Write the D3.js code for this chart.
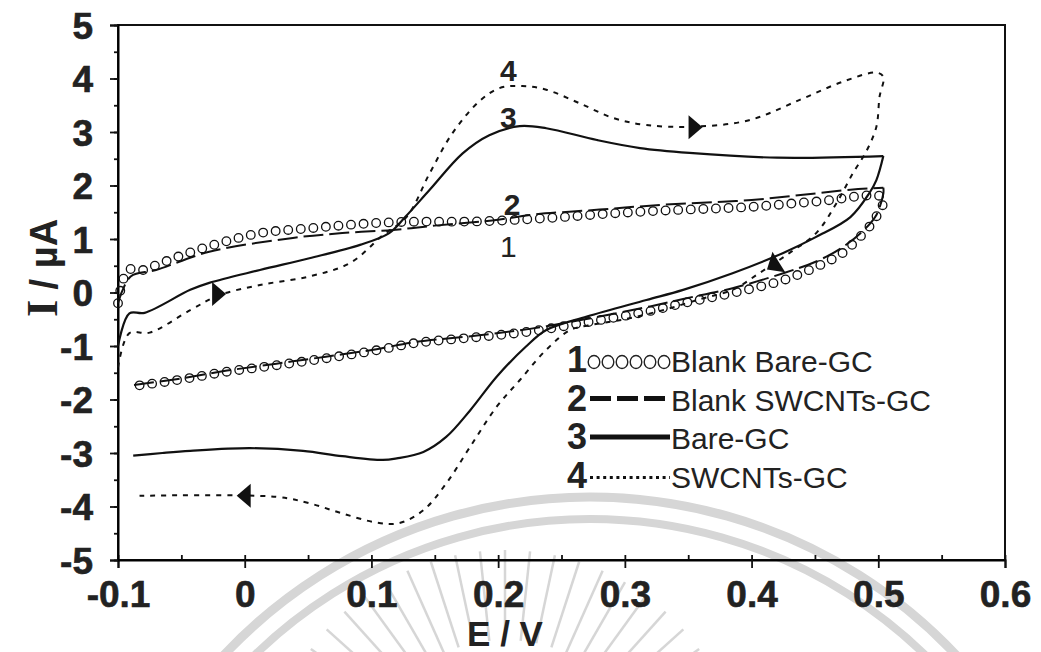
<!DOCTYPE html>
<html><head><meta charset="utf-8">
<script src="https://cdn.jsdelivr.net/npm/d3@7"></script>
<style>body{margin:0;background:#fff}svg{display:block}</style>
</head><body>
<svg id="c" width="1041" height="652"></svg>
<script>
// ---- data (E in V, I in µA) ----
const xTicks = [-0.1, 0, 0.1, 0.2, 0.3, 0.4, 0.5, 0.6];
const xTickLabels = ["-0.1", "0", "0.1", "0.2", "0.3", "0.4", "0.5", "0.6"];
const yTicks = [-5, -4, -3, -2, -1, 0, 1, 2, 3, 4, 5];
const yTickLabels = ["-5", "-4", "-3", "-2", "-1", "0", "1", "2", "3", "4", "5"];

// 1: Blank Bare-GC (circles)
const blankBare = [
  [-0.1,-0.2],[-0.092,0.42],[-0.08,0.42],[-0.07,0.51],[-0.049,0.70],[-0.02,0.92],[0.012,1.11],
  [0.051,1.20],[0.091,1.28],[0.125,1.32],[0.185,1.33],[0.238,1.39],[0.291,1.48],[0.338,1.54],
  [0.399,1.60],[0.451,1.70],[0.504,1.77],
  [0.4985,1.42],[0.493,1.23],[0.483,0.98],[0.472,0.74],[0.451,0.48],[0.425,0.23],[0.385,-0.01],
  [0.346,-0.20],[0.317,-0.36],[0.264,-0.58],[0.225,-0.73],[0.185,-0.83],[0.133,-0.95],[0.104,-1.08],
  [0.064,-1.23],[0.025,-1.36],[-0.014,-1.48],[-0.054,-1.64],[-0.091,-1.76]
];
// 2: Blank SWCNTs-GC (long dashes)
const blankSwcnt = [
  [-0.1,-0.2],[-0.09,0.30],[-0.07,0.42],[-0.028,0.76],[0.038,1.02],[0.077,1.11],[0.117,1.17],
  [0.15,1.25],[0.2,1.36],[0.225,1.45],[0.28,1.55],[0.33,1.64],[0.4,1.73],[0.478,1.92],[0.504,1.96],
  [0.504,1.85],[0.4985,1.45],[0.49,1.2],[0.472,0.85],[0.451,0.58],[0.425,0.36],[0.385,0.08],
  [0.346,-0.12],[0.32,-0.26],[0.264,-0.52],[0.225,-0.68],[0.185,-0.80],[0.133,-0.93],[0.104,-1.06],
  [0.064,-1.20],[0.025,-1.33],[-0.014,-1.46],[-0.054,-1.62],[-0.091,-1.74]
];
// 3: Bare-GC (solid)
const bareGC = [
  [-0.1,-1.0],[-0.091,-0.39],[-0.079,-0.38],[-0.043,0.05],[-0.028,0.18],[0.012,0.42],[0.051,0.64],
  [0.091,0.89],[0.114,1.11],[0.127,1.42],[0.146,1.92],[0.172,2.60],[0.193,2.94],[0.217,3.11],
  [0.238,3.07],[0.278,2.85],[0.312,2.70],[0.351,2.61],[0.42,2.52],[0.504,2.55],
  [0.4985,2.10],[0.493,1.86],[0.478,1.41],[0.451,1.04],[0.425,0.74],[0.385,0.36],[0.346,0.05],
  [0.317,-0.14],[0.270,-0.45],[0.238,-0.70],[0.222,-1.01],[0.199,-1.57],[0.178,-2.20],[0.159,-2.70],
  [0.141,-2.98],[0.120,-3.10],[0.109,-3.13],[0.077,-3.06],[0.046,-2.96],[0.004,-2.91],[-0.043,-2.96],
  [-0.065,-3.0],[-0.088,-3.05]
];
// 4: SWCNTs-GC (short dashes)
const swcntGC = [
  [-0.1,-1.4],[-0.091,-0.76],[-0.075,-0.75],[-0.043,-0.33],[-0.020,-0.05],[0.012,0.14],[0.051,0.30],
  [0.083,0.55],[0.109,1.07],[0.128,1.42],[0.146,2.23],[0.164,2.98],[0.185,3.57],[0.201,3.82],
  [0.219,3.86],[0.238,3.79],[0.264,3.54],[0.291,3.26],[0.317,3.13],[0.354,3.10],[0.398,3.22],
  [0.438,3.60],[0.472,3.94],[0.4985,4.11],[0.504,4.03],
  [0.501,3.66],[0.4985,3.10],[0.491,2.66],[0.480,2.23],[0.467,1.67],[0.451,1.11],[0.430,0.74],
  [0.406,0.36],[0.385,0.05],[0.36,-0.12],[0.33,-0.33],[0.30,-0.50],[0.27,-0.62],[0.257,-0.70],
  [0.238,-1.07],[0.217,-1.64],[0.199,-2.13],[0.178,-2.88],[0.159,-3.57],[0.141,-4.07],[0.122,-4.31],
  [0.104,-4.30],[0.077,-4.13],[0.051,-3.94],[0.025,-3.82],[-0.083,-3.80]
];
// scan-direction arrows: [E, I, angle in degrees (screen)]
const arrows = [[-0.021,-0.03,0],[0.355,3.09,0],[0.4175,0.51,148],[0.0,-3.80,180]];
// curve number labels: [text, E, I, bold]
const curveLabels = [["4",0.208,3.95,true],["3",0.208,3.07,true],["2",0.211,1.45,true],["1",0.208,0.67,false]];
const legendNums = ["1","2","3","4"];
const legendNames = ["Blank Bare-GC","Blank SWCNTs-GC","Bare-GC","SWCNTs-GC"];

// ---- drawing ----
const svg = d3.select("#c");
const SANS = "'Liberation Sans', Arial, Helvetica, sans-serif";
const x = d3.scaleLinear().domain([-0.1, 0.6]).range([118, 1005]);
const y = d3.scaleLinear().domain([-5, 5]).range([560, 25]);

// split a CV trace at the switching potential (first max-E point) into forward and reverse scans
function splitScan(data) {
  const k = d3.maxIndex(data, d => d[0]);
  return [data.slice(0, k + 1), data.slice(k)];
}

// watermark (faint logo arcs and rays)
const wm = svg.append("g").attr("fill","none").attr("stroke","#d6d6d6");
[[503,9],[481,8]].forEach(([r,w]) => {
  wm.append("path").attr("stroke-width", w)
    .attr("d", d3.arc()({innerRadius:r, outerRadius:r, startAngle:-Math.PI*0.36, endAngle:Math.PI*0.36}))
    .attr("transform","translate(590,1000)");
});
for (let a = -54; a <= 54; a += 6) {
  const t = a*Math.PI/180, cx = 505, cy = 790;
  wm.append("line").attr("stroke-width",2.5)
    .attr("x1", cx + 150*Math.sin(t)).attr("y1", cy - 150*Math.cos(t))
    .attr("x2", cx + 240*Math.sin(t)).attr("y2", cy - 240*Math.cos(t));
}

// frame
svg.append("rect").attr("x",118).attr("y",25).attr("width",887).attr("height",535)
  .attr("fill","none").attr("stroke","#111").attr("stroke-width",2);

// axes
const xMinor = d3.range(-0.1, 0.6001, 0.05);
const yMinor = d3.range(-5, 5.001, 0.5);
const gx = svg.append("g").attr("transform","translate(0,560)");
gx.call(d3.axisBottom(x).tickValues(xMinor).tickSize(-5).tickFormat(""))
  .call(g => g.select(".domain").remove());
gx.append("g").call(d3.axisBottom(x).tickValues(xTicks).tickSize(8).tickFormat((d,i)=>xTickLabels[i]))
  .call(g => g.select(".domain").attr("stroke-width",2))
  .call(g => g.selectAll("text").attr("font-family",SANS).attr("font-weight","bold")
     .attr("font-size",37).attr("fill","#222").attr("stroke","#222").attr("stroke-width",0.6)
     .attr("dy",0).attr("y",47));
const gy = svg.append("g").attr("transform","translate(118,0)");
gy.call(d3.axisLeft(y).tickValues(yMinor).tickSize(4).tickFormat(""))
  .call(g => g.select(".domain").remove());
gy.append("g").call(d3.axisLeft(y).tickValues(yTicks).tickSize(8).tickFormat((d,i)=>yTickLabels[i]))
  .call(g => g.select(".domain").attr("stroke-width",2))
  .call(g => g.selectAll("text").attr("font-family",SANS).attr("font-weight","bold")
     .attr("font-size",37).attr("fill","#222").attr("stroke","#222").attr("stroke-width",0.6)
     .attr("x",-25).attr("dy","0.36em"));
svg.selectAll(".tick line").attr("stroke","#111").attr("stroke-width",1.8);

// axis titles
svg.append("text").attr("transform","translate(57,268) rotate(-90)").attr("text-anchor","middle")
  .attr("font-family",SANS).attr("font-weight","bold").attr("font-size",38).attr("fill","#222")
  .call(t => { t.append("tspan").attr("font-family","'Liberation Serif', 'Times New Roman', serif").attr("font-size",44).text("I");
               t.append("tspan").text(" / µA"); });
svg.append("text").attr("x",505).attr("y",646).attr("text-anchor","middle")
  .attr("font-family",SANS).attr("font-weight","bold").attr("font-size",35).attr("fill","#222").text("E / V");

// curves
const line = d3.line().x(d => x(d[0])).y(d => y(d[1])).curve(d3.curveCatmullRom.alpha(0.5));
const plot = svg.append("g").attr("fill","none").attr("stroke","#111");
plot.selectAll("path.c2").data(splitScan(blankSwcnt)).join("path").attr("class","c2")
  .attr("d",line).attr("stroke-width",2).attr("stroke-dasharray","20,6");
plot.selectAll("path.c3").data(splitScan(bareGC)).join("path").attr("class","c3")
  .attr("d",line).attr("stroke-width",2.2);
plot.append("path").datum(swcntGC).attr("d",line).attr("stroke-width",2).attr("stroke-dasharray","5,6");
// circle markers placed along blank bare-GC trace
const p1 = plot.append("path").datum(blankBare).attr("d",line).attr("stroke","none").node();
const L = p1.getTotalLength();
const pts = d3.range(0, L, 12.6).map(l => p1.getPointAtLength(l));
plot.selectAll("circle.m").data(pts).join("circle").attr("class","m")
  .attr("cx",d=>d.x).attr("cy",d=>d.y).attr("r",4.3).attr("stroke-width",1.3).attr("fill","none");

// arrows
svg.selectAll("path.arr").data(arrows).join("path").attr("class","arr")
  .attr("d","M8,0 L-6,-12 L-6,12 Z").attr("fill","#111")
  .attr("transform", d => `translate(${x(d[0])},${y(d[1])}) rotate(${d[2]})`);

// curve labels
svg.selectAll("text.cl").data(curveLabels).join("text").attr("class","cl")
  .attr("x", d => x(d[1])).attr("y", d => y(d[2])).attr("text-anchor","middle")
  .attr("font-family",SANS).attr("font-size",30).attr("font-weight", d => d[3] ? "bold" : "normal")
  .attr("fill","#222").text(d => d[0]);

// legend
const lg = svg.append("g");
const rowY = i => 372 + i*38.5;
lg.selectAll("text.ln").data(legendNums).join("text").attr("class","ln")
  .attr("x",577).attr("y",(d,i)=>rowY(i)).attr("text-anchor","middle")
  .attr("font-family",SANS).attr("font-weight","bold").attr("font-size",36).attr("fill","#222").text(d=>d);
lg.selectAll("text.lt").data(legendNames).join("text").attr("class","lt")
  .attr("x",671).attr("y",(d,i)=>rowY(i)).attr("font-family",SANS).attr("font-size",30)
  .attr("fill","#222").text(d=>d);
// samples
lg.selectAll("ellipse").data(d3.range(6)).join("ellipse")
  .attr("cx",i=>594+i*14).attr("cy",rowY(0)-10).attr("rx",5.8).attr("ry",6.5)
  .attr("fill","none").attr("stroke","#222").attr("stroke-width",1.4);
lg.append("line").attr("x1",590).attr("x2",670).attr("y1",rowY(1)-12).attr("y2",rowY(1)-12)
  .attr("stroke","#111").attr("stroke-width",5).attr("stroke-dasharray","21,6");
lg.append("line").attr("x1",590).attr("x2",670).attr("y1",rowY(2)-12).attr("y2",rowY(2)-12)
  .attr("stroke","#111").attr("stroke-width",5);
lg.append("line").attr("x1",590).attr("x2",670).attr("y1",rowY(3)-10).attr("y2",rowY(3)-10)
  .attr("stroke","#111").attr("stroke-width",3).attr("stroke-dasharray","3,3.6");
</script>
</body></html>
